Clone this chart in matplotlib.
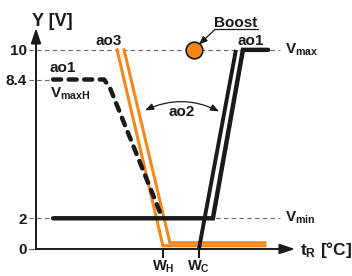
import numpy as np
import matplotlib
matplotlib.use('Agg')
import matplotlib.pyplot as plt

plt.rcParams['font.family'] = ['Liberation Sans', 'DejaVu Sans']
plt.rcParams['font.weight'] = 'bold'
plt.rcParams['mathtext.fontset'] = 'custom'
plt.rcParams['mathtext.rm'] = 'Liberation Sans:bold'
plt.rcParams['mathtext.it'] = 'Liberation Sans:bold'
plt.rcParams['mathtext.bf'] = 'Liberation Sans:bold'

## data (schematic)
y_ticks = [0, 2, 8.4, 10]
y_tick_labels = ['0', '2', '8.4', '10']
v_min, v_max_h, v_max = 2, 8.4, 10
w_h, w_c = 49.0, 62.9

# ao3 (orange, double line)
ao3_a_x = [31.3, 49.0, 88.4]
ao3_a_y = [10, 0.21, 0.21]
ao3_b_x = [34.0, 51.7, 88.4]
ao3_b_y = [10, 0.41, 0.41]
# ao1 (black solid)
ao1_x = [6.6, 68.3, 79.9, 89.6]
ao1_y = [2, 2, 10, 10]
ao1_b_x = [62.9, 77.2]
ao1_b_y = [0, 10]
# ao1 V_maxH (black dashed)
ao1h_x = [6.6, 26.3, 28.6, 48.3]
ao1h_y = [8.4, 8.4, 8.0, 2.15]
# boost point
boost_x, boost_y = 61.0, 10

## non linear (schematic) vertical scale
scale_v = [-3, 0, 2, 8.4, 10, 15]
scale_px = [-43.5, 0, 29, 160, 188, 242.3]
fwd = lambda v: np.interp(v, scale_v, scale_px)
inv = lambda h: np.interp(h, scale_px, scale_v)

fig = plt.figure(figsize=(3.52, 2.76), dpi=100)
ax = fig.add_axes([36/352, 27/276, 259/352, 221/276])
ax.set_yscale('function', functions=(fwd, inv))
ax.set_xlim(0, 100)
ax.set_ylim(0, 11.9)
for s in ax.spines.values():
    s.set_visible(False)

orange = '#f7861d'
black = '#1a1a1a'
gray = '#666666'

# reference dashed lines
ax.plot([-2.7, 94.2], [v_max, v_max], color=gray, lw=0.8, ls=(0, (4, 3)), clip_on=False, zorder=1)
ax.plot([-2.7, 94.2], [v_min, v_min], color=gray, lw=0.8, ls=(0, (4, 3)), clip_on=False, zorder=1)
ax.plot([-2.7, 6.6], [v_max_h, v_max_h], color=gray, lw=0.8, ls=(0, (4, 3)), clip_on=False, zorder=1)
ax.plot([-2.7, 0], [0, 0], color=gray, lw=0.8, clip_on=False, zorder=1)

# axes with arrows
ax.annotate('', xy=(0, 1), xytext=(0, 0), xycoords='axes fraction',
            arrowprops=dict(arrowstyle='-|>,head_length=0.75,head_width=0.25', color=black,
                            lw=1.4, mutation_scale=12, shrinkA=0, shrinkB=0), zorder=2)
ax.annotate('', xy=(1, 0), xytext=(0, 0), xycoords='axes fraction',
            arrowprops=dict(arrowstyle='-|>,head_length=0.75,head_width=0.25', color=black,
                            lw=1.4, mutation_scale=12, shrinkA=0, shrinkB=0), zorder=2)

# curves
ax.plot(ao3_a_x, ao3_a_y, color=orange, lw=2.2, solid_joinstyle='miter', zorder=3, clip_on=False)
ax.plot(ao3_b_x, ao3_b_y, color=orange, lw=2.2, solid_joinstyle='miter', zorder=3, clip_on=False)
ax.plot(ao1h_x, ao1h_y, color=black, lw=3.2, ls=(0, (1.8, 1.7)), dash_capstyle='round', zorder=4)
ax.plot(ao1_x, ao1_y, color=black, lw=3.2, solid_capstyle='round', solid_joinstyle='miter', zorder=5, clip_on=False)
ax.plot(ao1_b_x, ao1_b_y, color=black, lw=2.8, solid_capstyle='butt', zorder=5, clip_on=False)
ax.plot([boost_x], [boost_y], 'o', ms=12, mfc=orange, mec=black, mew=1.2, zorder=6, clip_on=False)

# ticks
ax.set_yticks(y_ticks)
ax.set_yticklabels(y_tick_labels, fontweight='bold')
ax.yaxis.set_minor_locator(matplotlib.ticker.NullLocator())
ax.tick_params(axis='y', length=0, pad=6.5, labelsize=11, labelcolor=black)
ax.set_xticks([w_h, w_c])
ax.set_xticklabels([])
ax.tick_params(axis='x', length=6.5, width=1.5, color=black, direction='out')
ax.text(w_h, -1.15, r'$\mathrm{W_H}$', ha='center', va='center', fontsize=10.5, color=black)
ax.text(w_c, -1.15, r'$\mathrm{W_C}$', ha='center', va='center', fontsize=10.5, color=black)

# labels
ax.text(-1.5, 12.47, 'Y [V]', ha='left', va='center', fontsize=13, fontweight='bold', color=black)
ax.text(101.9, -0.05, r'$\mathrm{t_R}$ [°C]', ha='left', va='center', fontsize=12.5, fontweight='bold', color=black)
ax.text(96.1, 10, r'$\mathrm{V_{max}}$', ha='left', va='center', fontsize=11, color=black)
ax.text(96.1, 2, r'$\mathrm{V_{min}}$', ha='left', va='center', fontsize=11, color=black)
ax.text(28.2, 10.74, 'ao3', ha='center', va='center', fontsize=11, fontweight='bold', color=black)
ax.text(83.0, 10.74, 'ao1', ha='center', va='center', fontsize=11, fontweight='bold', color=black)
ax.text(5.4, 9.03, 'ao1', ha='left', va='center', fontsize=11, fontweight='bold', color=black)
ax.text(5.4, 7.72, r'$\mathrm{V_{maxH}}$', ha='left', va='center', fontsize=11, color=black)
ax.text(56.4, 6.89, 'ao2', ha='center', va='center', fontsize=11, fontweight='bold', color=black)
ax.annotate('', xy=(70.7, 6.93), xytext=(42.1, 6.98),
            arrowprops=dict(arrowstyle='<|-|>,head_length=0.5,head_width=0.2', color=black, lw=0.9,
                            connectionstyle='arc3,rad=-0.24', shrinkA=0, shrinkB=0))

# boost annotation
ax.text(77.2, 12.36, 'Boost', ha='center', va='center', fontsize=11, fontweight='bold', color=black)
ax.plot([69.1, 85.7], [11.77, 11.77], color=black, lw=0.9, clip_on=False)
ax.annotate('', xy=(62.9, 10.46), xytext=(69.1, 11.77), annotation_clip=False,
            arrowprops=dict(arrowstyle='-|>,head_length=0.5,head_width=0.2', color=black, lw=0.9,
                            shrinkA=0, shrinkB=0))

plt.savefig('out.png', dpi=100)
